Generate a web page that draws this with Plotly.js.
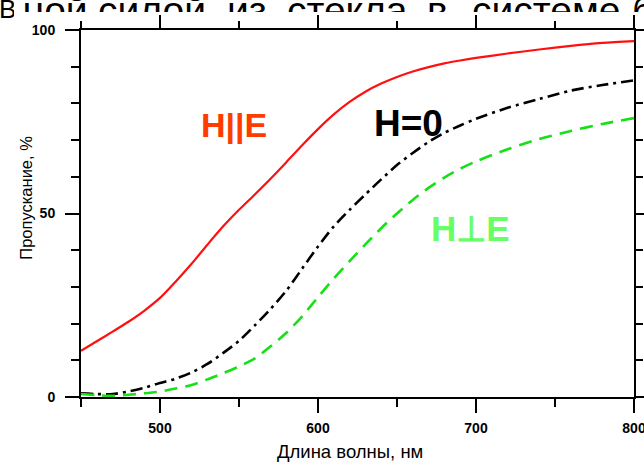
<!DOCTYPE html>
<html>
<head>
<meta charset="utf-8">
<script src="https://cdn.plot.ly/plotly-3.0.1.min.js"></script>
<style>
  html, body { margin:0; padding:0; background:#fff; }
  #wrap { position:relative; width:644px; height:462px; overflow:hidden; }
  #chart { position:absolute; left:0; top:0; width:644px; height:462px; }
  .cap { position:absolute; overflow:hidden; z-index:5; font-family:'Liberation Sans', Arial, sans-serif; color:#000; white-space:nowrap; }
  .cap span { position:absolute; display:block; overflow:hidden; }
  .line39 { font-size:39px; line-height:12px; }
  .line39 span { top:0; height:12px; line-height:12px; }
  .line39 span i { font-style:normal; position:relative; top:5.2px; display:block; line-height:12px; }
</style>
</head>
<body>
<div id="wrap">
  <div id="chart"></div>
  <div class="cap line39" style="left:0;top:0;width:644px;height:12px;">
    <span style="left:22.6px"><i>ной</i></span>
    <span style="left:98px"><i>силой</i></span>
    <span style="left:227px"><i>из</i></span>
    <span style="left:287px"><i>стекла</i></span>
    <span style="left:427px"><i>в</i></span>
    <span style="left:472px"><i>системе</i></span>
    <span style="left:632px"><i>б</i></span>
  </div>
  <div class="cap" style="left:0;top:0;width:14px;height:19px;font-size:26px;line-height:19px;">
    <span style="left:-1px;top:-0.5px">В</span>
  </div>
</div>
<script>
// Wavelength, nm
const wavelength = [450,460,470,480,490,500,510,520,530,540,550,560,570,580,590,600,610,620,630,640,650,660,670,680,690,700,720,740,760,780,800];
// Transmission, %  (H || E)
const tParallel = [12.6,15.2,17.8,20.5,23.5,27,31.5,36.3,41.5,46.5,51,55.2,59.5,64,68.6,73,77,80.4,83.2,85.4,87.2,88.7,89.9,90.9,91.7,92.4,93.6,94.7,95.7,96.5,97];
// Transmission, %  (H = 0)
const tZero = [1,0.8,0.8,1.5,2.5,3.8,5,6.7,9,12,15.3,19.5,24,29,35,41,46.5,51,55.2,59.3,63.2,66.5,69.5,72,74,75.8,78.8,81.2,83.5,85,86.3];
// Transmission, %  (H ⊥ E)
const tPerp = [0.8,0.5,0.3,0.6,1,1.5,2.3,3.3,4.8,6.5,8.3,10.5,13.8,17.5,22,27.2,32.3,37,41.6,46,50,53.7,57,59.8,62.2,64.2,67.5,70.3,72.5,74.4,76];

const seriesNames = ['H||E', 'H=0', 'H\u22a5E'];
const xTickVals = [500,600,700,800];
const xMinorVals = [450,550,650,750];
const yTickVals = [0,50,100];
const xRange = [450,800.01];
const yRange = [0,100.01];

const fontFam = 'Liberation Sans, Arial, sans-serif';

const traces = [
  {x: wavelength, y: tParallel, name: seriesNames[0], mode:'lines',
   line:{color:'#ff1010', width:2.2, shape:'spline', smoothing:0.8}},
  {x: wavelength, y: tZero, name: seriesNames[1], mode:'lines',
   line:{color:'#000000', width:2.6, shape:'spline', smoothing:0.8, dash:'12px,5px,3px,5px'}},
  {x: wavelength, y: tPerp, name: seriesNames[2], mode:'lines',
   line:{color:'#16e016', width:2.6, shape:'spline', smoothing:0.8, dash:'13px,8px'}},
  // empty trace that only carries the mirrored (top / right) tick axes
  {x: [], y: [], xaxis:'x2', yaxis:'y2', mode:'lines', showlegend:false, hoverinfo:'skip'}
];

const tickFont = {family:fontFam, size:14, color:'#000', weight:'bold'};
const tickStyle = {ticks:'outside', ticklen:14, tickwidth:2, tickcolor:'#000'};
const minorStyle = {ticks:'outside', ticklen:8, tickwidth:2, tickcolor:'#000'};

const layout = {
  width:644, height:462,
  margin:{l:81, r:10, t:30, b:65, pad:0},
  paper_bgcolor:'rgba(0,0,0,0)', plot_bgcolor:'#ffffff',
  showlegend:false,
  xaxis:Object.assign({
    range:xRange, tickvals:xTickVals, ticktext:xTickVals.map(String),
    minor:Object.assign({tickvals:xMinorVals}, minorStyle),
    showline:true, linecolor:'#000', linewidth:2, mirror:true,
    showgrid:false, zeroline:false, tickfont:tickFont, ticklabelstandoff:3,
    ticklabeloverflow:'allow', automargin:false, fixedrange:true
  }, tickStyle),
  yaxis:Object.assign({
    range:yRange, tickvals:yTickVals, ticktext:yTickVals.map(String),
    minor:Object.assign({dtick:10, tick0:0}, minorStyle),
    showline:true, linecolor:'#000', linewidth:2, mirror:true,
    showgrid:false, zeroline:false, tickfont:tickFont, ticklabelstandoff:7,
    ticklabeloverflow:'allow', automargin:false, fixedrange:true
  }, tickStyle),
  xaxis2:Object.assign({
    overlaying:'x', side:'top', anchor:'y2', range:xRange, tickvals:xTickVals,
    minor:Object.assign({tickvals:xMinorVals}, minorStyle),
    showticklabels:false, showline:false, showgrid:false, zeroline:false, fixedrange:true
  }, tickStyle),
  yaxis2:Object.assign({
    overlaying:'y', side:'right', anchor:'x2', range:yRange, tickvals:yTickVals,
    minor:Object.assign({dtick:10, tick0:0}, minorStyle),
    showticklabels:false, showline:false, showgrid:false, zeroline:false, fixedrange:true
  }, tickStyle),
  annotations:[
    {xref:'paper', yref:'paper', x:0.4864, y:-0.148, xanchor:'center', yanchor:'middle',
     text:'Длина волны, нм', showarrow:false, font:{family:fontFam, size:18.5, color:'#000'}},
    {xref:'paper', yref:'paper', x:-0.0995, y:0.543, xanchor:'center', yanchor:'middle', textangle:-90,
     text:'Пропускание, %', showarrow:false, font:{family:fontFam, size:16.5, color:'#000'}},
    {xref:'x', yref:'y', x:546.8, y:74.1, text:'<b>H||E</b>', showarrow:false,
     font:{family:fontFam, size:34, color:'#ff3c00'}},
    {xref:'x', yref:'y', x:657, y:74.4, text:'<b>H=0</b>', showarrow:false,
     font:{family:fontFam, size:37, color:'#000000'}},
    {xref:'x', yref:'y', x:696.5, y:45.9, text:'<b>H\u22a5E</b>', showarrow:false,
     font:{family:fontFam, size:35, color:'#66ff66'}}
  ]
};

Plotly.newPlot('chart', traces, layout, {staticPlot:true, displayModeBar:false});
</script>
</body>
</html>
